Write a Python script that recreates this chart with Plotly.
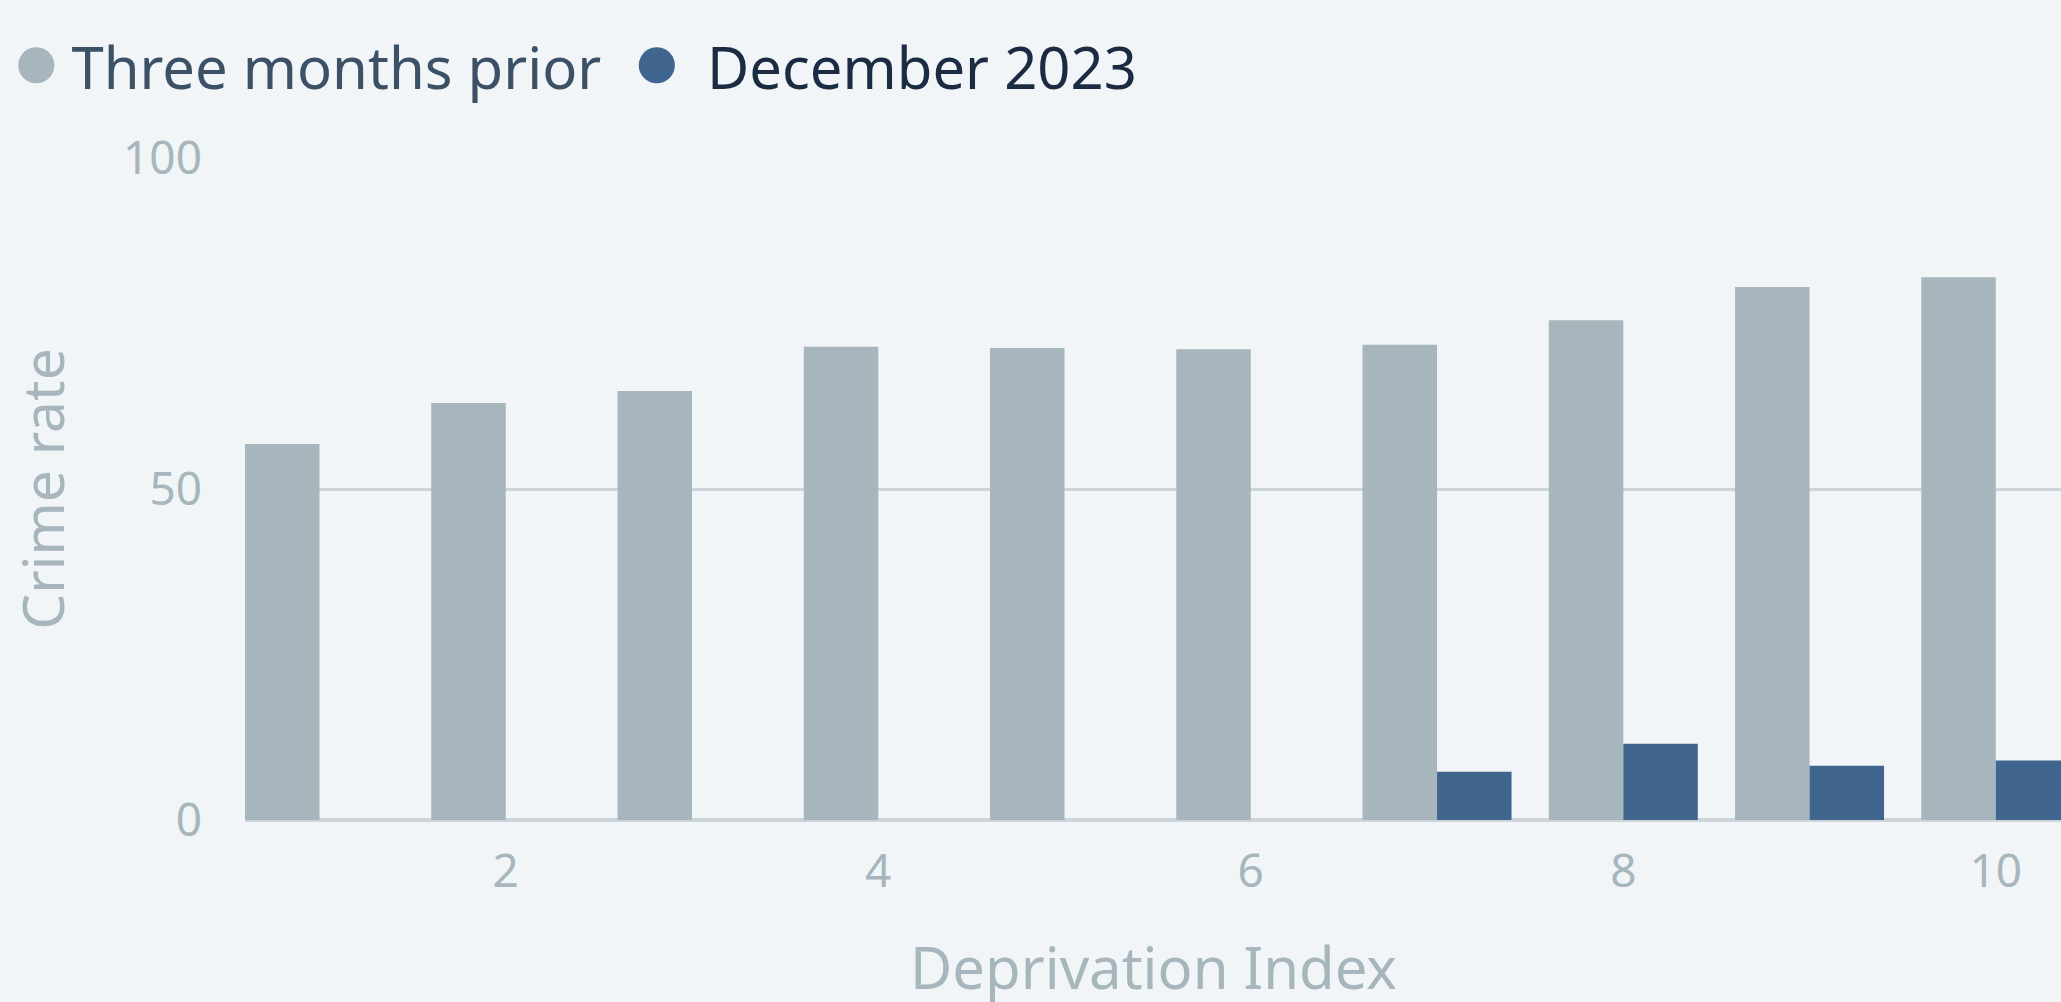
import plotly.graph_objects as go

# deprivation index deciles
deciles = [1, 2, 3, 4, 5, 6, 7, 8, 9, 10]
prior_rate = [56.8, 63.0, 64.8, 71.5, 71.3, 71.1, 71.8, 75.5, 80.5, 82.0]
dec_2023_rate = [None, None, None, None, None, None, 7.3, 11.5, 8.2, 9.0]
x_ticks = [2, 4, 6, 8, 10]
y_ticks = [0, 50, 100]

GREY = "#a7b5bc"
BLUE = "#40658f"
BG = "#f1f5f8"
AXIS = "#a7b5bc"

fig = go.Figure()
fig.add_trace(go.Bar(x=deciles, y=prior_rate, name="Three months prior",
                     marker_color=GREY, marker_line_width=0, showlegend=False))
fig.add_trace(go.Bar(x=deciles, y=dec_2023_rate, name="December 2023",
                     marker_color=BLUE, marker_line_width=0, showlegend=False))

# legend drawn as text, the circles are bigger than plotly's legend markers allow
legend_text = (
    f"<span style='color:{GREY};font-size:84px'>●</span>\u2009"
    "<span style='color:#3d5166'>Three months prior</span>"
    f"  <span style='color:{BLUE};font-size:84px'>●</span>"
    " \u2009<span style='color:#1a2b42'>December 2023</span>"
)
fig.add_annotation(text=legend_text, xref="paper", yref="paper",
                   x=-0.13, y=1.1526, xanchor="left", yanchor="middle",
                   showarrow=False, font=dict(size=58))

# x axis title sits lower than plotly's standoff will put it
fig.add_annotation(text="Deprivation Index", xref="paper", yref="paper",
                   x=0.5, y=-0.221, xanchor="center", yanchor="middle",
                   showarrow=False, font=dict(size=58, color=AXIS))

fig.update_layout(
    width=2061, height=1002,
    barmode="group", bargap=0.2, bargroupgap=0,
    paper_bgcolor=BG, plot_bgcolor=BG,
    font=dict(family="Noto Sans, Open Sans, sans-serif", color=AXIS),
    margin=dict(l=245, r=0, t=158, b=182, autoexpand=False),
    xaxis=dict(range=[0.6, 10.35], tickvals=x_ticks, showgrid=False,
               zeroline=False, showline=False, ticks="", automargin=False,
               tickfont=dict(size=46, color=AXIS), ticklabelstandoff=20),
    yaxis=dict(range=[0, 100], tickvals=y_ticks, showgrid=True,
               gridcolor="#cdd5da", gridwidth=3, automargin=False,
               zeroline=True, zerolinecolor="#cdd5da", zerolinewidth=4,
               ticks="", tickfont=dict(size=46, color=AXIS), ticklabelstandoff=42,
               title=dict(text="Crime rate", font=dict(size=57, color=AXIS),
                          standoff=40)),
)

fig.write_html("out.html", config={"displayModeBar": False},
               post_script="document.body.style.margin='0';")
